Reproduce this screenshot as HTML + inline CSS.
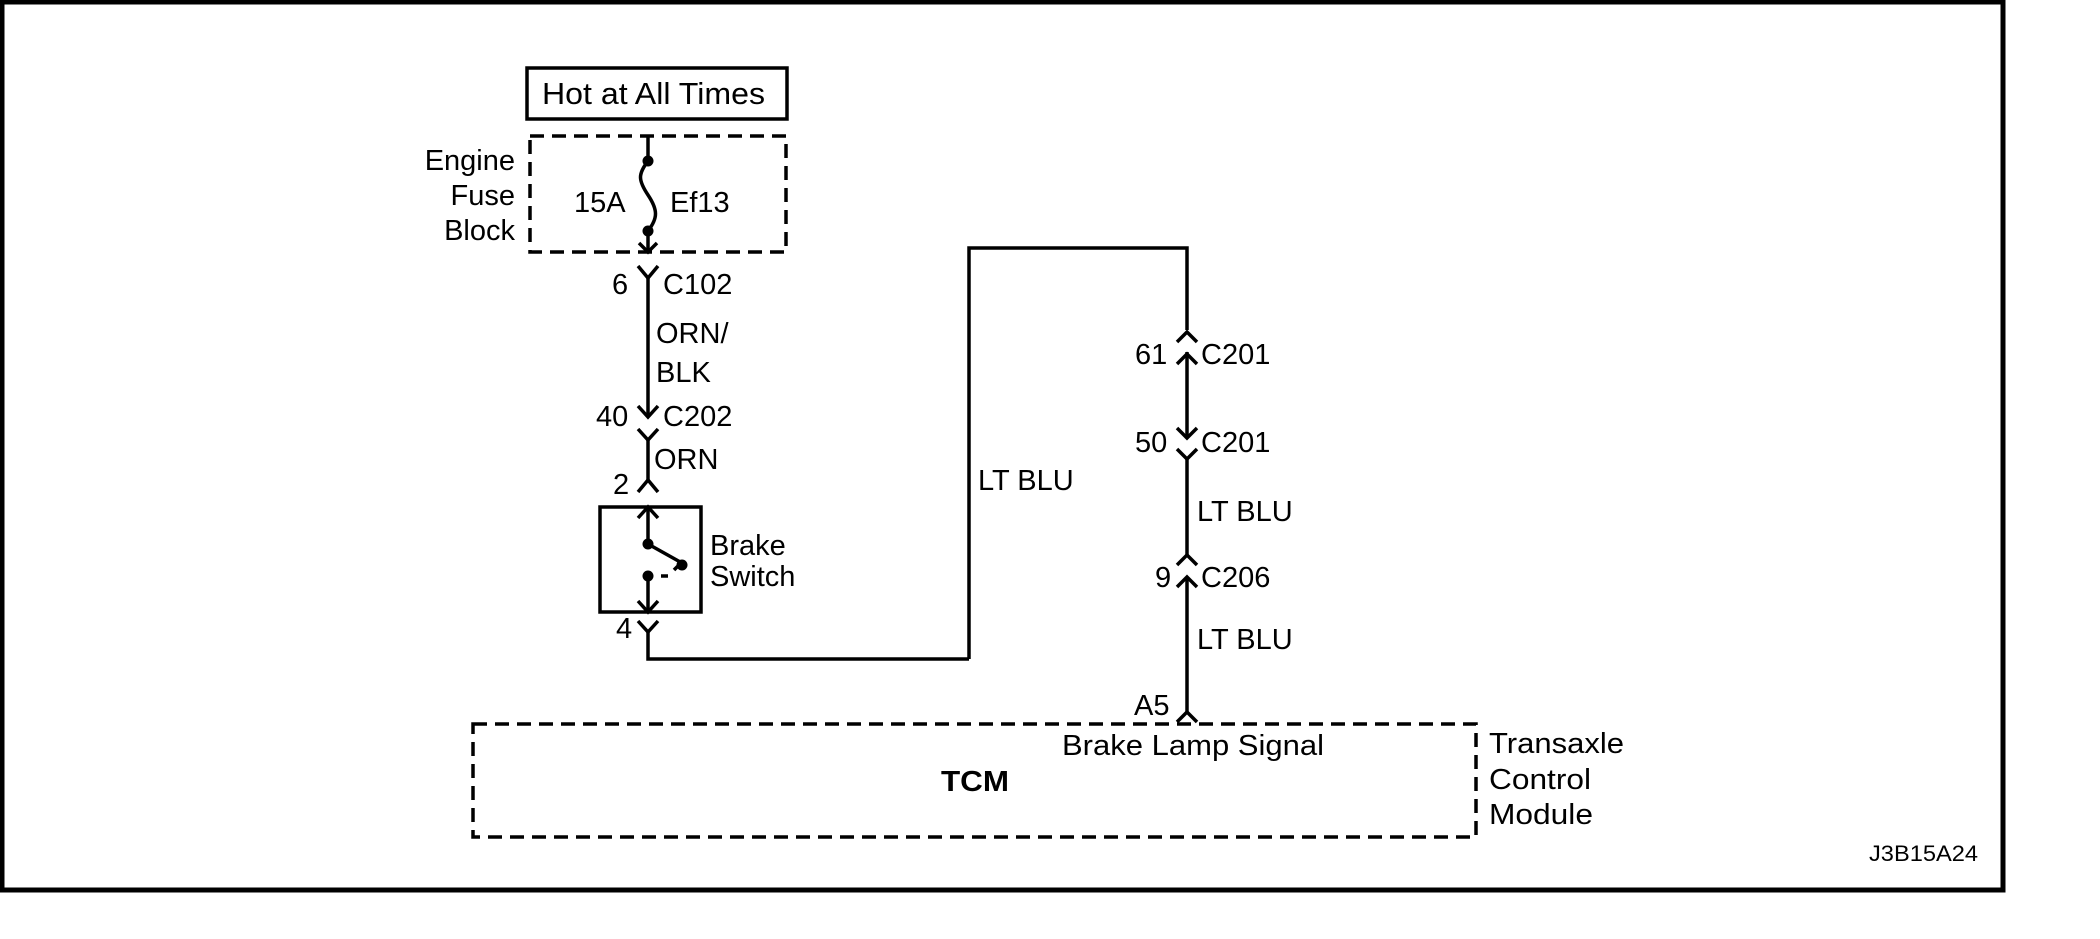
<!DOCTYPE html>
<html><head><meta charset="utf-8"><style>
html,body{margin:0;padding:0;background:#fff;}
svg{display:block;}
text{font-family:"Liberation Sans",Arial,sans-serif;fill:#000;}
</style></head><body>
<svg width="2100" height="939" viewBox="0 0 2100 939" xmlns="http://www.w3.org/2000/svg">
<rect x="0" y="0" width="2100" height="939" fill="#fff"/>
<path d="M2 0 V890 H2003 V0" fill="none" stroke="#000" stroke-width="5"/>
<path d="M0 2 H2003" stroke="#000" stroke-width="5"/>
<g transform="translate(-3,0)">
<g stroke="#000" stroke-width="3.5" fill="none" stroke-linecap="butt">
<rect x="530" y="68" width="260" height="51"/>
<rect x="533" y="136" width="256" height="116" stroke-dasharray="14,8"/>
<path d="M651 136 V161"/>
<path d="M651 161 C641 174,641 180,651 195 C661 210,661 218,651 231"/>
<path d="M651 231 V252"/>
<path d="M642 243 L651 252 L660 243"/>
<path d="M641 266 L651 278 L661 266"/>
<path d="M651 278 V417"/>
<path d="M641 406 L651 417 L661 406"/>
<path d="M641 429 L651 440 L661 429"/>
<path d="M651 440 V480"/>
<path d="M641 492 L651 480 L661 492"/>
<rect x="603" y="507" width="101" height="105"/>
<path d="M651 507 V544"/>
<path d="M641 518 L651 507 L661 518"/>
<path d="M651 544 L685 563"/>
<path d="M664 576 H671"/>
<path d="M677 570 L682 565"/>
<path d="M651 576 V612"/>
<path d="M641 601 L651 612 L661 601"/>
<path d="M641 621 L651 632 L661 621"/>
<path d="M651 632 V659 H972"/>
</g>
<circle cx="651" cy="161" r="5.5"/>
<circle cx="651" cy="231" r="5.5"/>
<circle cx="651" cy="544" r="5.5"/>
<circle cx="651" cy="576" r="5.5"/>
<circle cx="685" cy="565" r="5.5"/>
<g font-size="29">
<text x="545" y="104" font-size="31" textLength="223" lengthAdjust="spacingAndGlyphs">Hot at All Times</text>
<text x="518" y="170" text-anchor="end">Engine</text>
<text x="518" y="205" text-anchor="end">Fuse</text>
<text x="518" y="240" text-anchor="end">Block</text>
<text x="577" y="212">15A</text>
<text x="673" y="212">Ef13</text>
<text x="615" y="294">6</text>
<text x="666" y="294">C102</text>
<text x="659" y="343">ORN/</text>
<text x="659" y="382">BLK</text>
<text x="599" y="426">40</text>
<text x="666" y="426">C202</text>
<text x="657" y="469">ORN</text>
<text x="616" y="494">2</text>
<text x="713" y="555">Brake</text>
<text x="713" y="586">Switch</text>
<text x="619" y="638">4</text>
</g>
</g>
<g stroke="#000" stroke-width="3.5" fill="none">
<path d="M969 659 V248 H1187 V330"/>
<path d="M1177 342 L1187 332 L1197 342"/>
<path d="M1187 352 V438"/>
<path d="M1177 364 L1187 354 L1197 364"/>
<path d="M1177 428 L1187 438 L1197 428"/>
<path d="M1177 449 L1187 459 L1197 449"/>
<path d="M1187 459 V555"/>
<path d="M1177 565 L1187 555 L1197 565"/>
<path d="M1177 587 L1187 577 L1197 587"/>
<path d="M1187 577 V712"/>
<path d="M1177 722 L1187 712 L1197 722"/>
<rect x="473" y="724" width="1003" height="113" stroke-dasharray="14,8"/>
</g>
<g font-size="29">
<text x="978" y="490">LT BLU</text>
<text x="1135" y="364">61</text>
<text x="1201" y="364">C201</text>
<text x="1135" y="452">50</text>
<text x="1201" y="452">C201</text>
<text x="1197" y="521">LT BLU</text>
<text x="1155" y="587">9</text>
<text x="1201" y="587">C206</text>
<text x="1197" y="649">LT BLU</text>
<text x="1134" y="715">A5</text>
<text x="1062" y="755" textLength="262" lengthAdjust="spacingAndGlyphs">Brake Lamp Signal</text>
<text x="941" y="791" font-weight="bold" textLength="68" lengthAdjust="spacingAndGlyphs">TCM</text>
<text x="1489" y="753" textLength="135" lengthAdjust="spacingAndGlyphs">Transaxle</text>
<text x="1489" y="789" textLength="102" lengthAdjust="spacingAndGlyphs">Control</text>
<text x="1489" y="824" textLength="104" lengthAdjust="spacingAndGlyphs">Module</text>
<text x="1869" y="861" font-size="22" textLength="109" lengthAdjust="spacingAndGlyphs">J3B15A24</text>
</g>
</svg>
</body></html>
